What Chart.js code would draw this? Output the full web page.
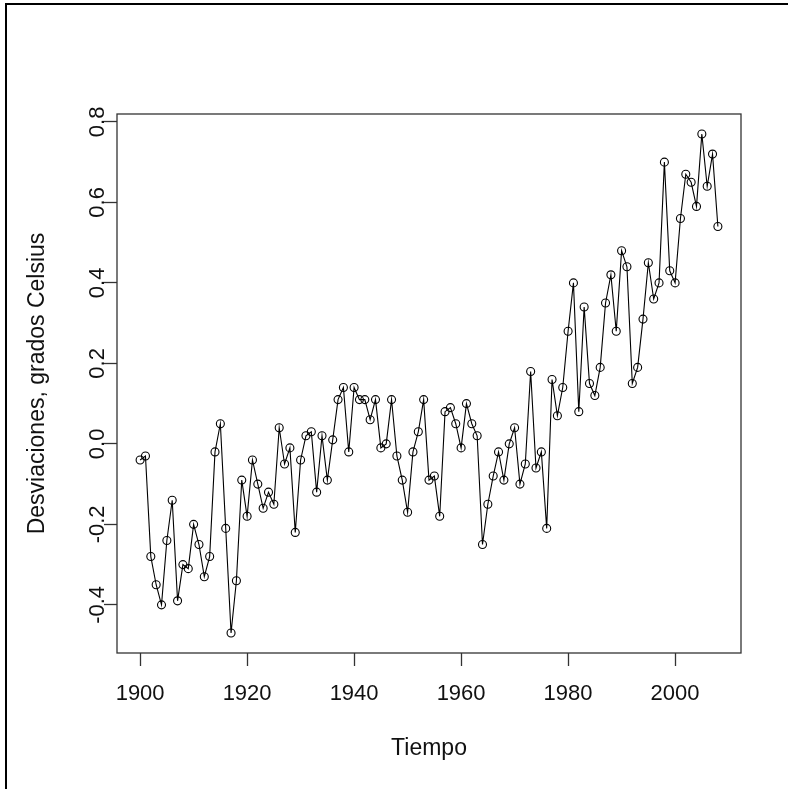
<!DOCTYPE html>
<html>
<head>
<meta charset="utf-8">
<script src="https://cdn.jsdelivr.net/npm/chart.js@4.4.1/dist/chart.umd.min.js"></script>
<style>
  html, body { margin: 0; padding: 0; background: #fff; }
  #wrap { position: relative; width: 788px; height: 789px; }
</style>
</head>
<body>
<div id="wrap"><canvas id="c" width="788" height="789"></canvas></div>
<script>
// Years (categories)
const years = [];
for (let y = 1900; y <= 2008; y++) years.push(y);

// Temperature deviations (degrees Celsius)
const deviations = [
  -0.04, -0.03, -0.28, -0.35, -0.40, -0.24, -0.14, -0.39, -0.30, -0.31,
  -0.20, -0.25, -0.33, -0.28, -0.02,  0.05, -0.21, -0.47, -0.34, -0.09,
  -0.18, -0.04, -0.10, -0.16, -0.12, -0.15,  0.04, -0.05, -0.01, -0.22,
  -0.04,  0.02,  0.03, -0.12,  0.02, -0.09,  0.01,  0.11,  0.14, -0.02,
   0.14,  0.11,  0.11,  0.06,  0.11, -0.01,  0.00,  0.11, -0.03, -0.09,
  -0.17, -0.02,  0.03,  0.11, -0.09, -0.08, -0.18,  0.08,  0.09,  0.05,
  -0.01,  0.10,  0.05,  0.02, -0.25, -0.15, -0.08, -0.02, -0.09,  0.00,
   0.04, -0.10, -0.05,  0.18, -0.06, -0.02, -0.21,  0.16,  0.07,  0.14,
   0.28,  0.40,  0.08,  0.34,  0.15,  0.12,  0.19,  0.35,  0.42,  0.28,
   0.48,  0.44,  0.15,  0.19,  0.31,  0.45,  0.36,  0.40,  0.70,  0.43,
   0.40,  0.56,  0.67,  0.65,  0.59,  0.77,  0.64,  0.72,  0.54
];

// Tick labels
const xTicks = [1900, 1920, 1940, 1960, 1980, 2000];
const yTicks = [-0.4, -0.2, 0.0, 0.2, 0.4, 0.6, 0.8];

const xTitle = "Tiempo";
const yTitle = "Desviaciones, grados Celsius";

const FONT = "'Liberation Sans', Arial, sans-serif";
const TICK_SIZE = 22;
const TITLE_SIZE = 23;

// R-style 4% axis extension
const xmin0 = Math.min(...years), xmax0 = Math.max(...years);
const ymin0 = Math.min(...deviations), ymax0 = Math.max(...deviations);
const xpad = (xmax0 - xmin0) * 0.04, ypad = (ymax0 - ymin0) * 0.04;

const points = years.map((y, i) => ({ x: y, y: deviations[i] }));

const framePlugin = {
  id: 'frame',
  beforeDraw(chart) {
    const ctx = chart.ctx;
    ctx.save();
    ctx.fillStyle = '#fff';
    ctx.fillRect(0, 0, chart.width, chart.height);
    ctx.fillStyle = '#000';
    ctx.fillRect(5, 3, chart.width - 5, 2);
    ctx.fillRect(5, 3, 2, chart.height - 3);
    ctx.restore();
  },
  afterDraw(chart) {
    const ctx = chart.ctx;
    const a = chart.chartArea;
    ctx.save();
    ctx.strokeStyle = '#333';
    ctx.lineWidth = 1.3;
    ctx.strokeRect(a.left, a.top, a.right - a.left, a.bottom - a.top);
    // y tick labels, rotated (parallel to axis)
    const ys = chart.scales.y;
    ctx.fillStyle = '#111';
    ctx.font = TICK_SIZE + 'px ' + FONT;
    ctx.textAlign = 'center';
    ctx.textBaseline = 'alphabetic';
    ys.ticks.forEach(t => {
      const py = ys.getPixelForValue(t.value);
      ctx.save();
      ctx.translate(104, py);
      ctx.rotate(-Math.PI / 2);
      ctx.fillText(t.value.toFixed(1), 0, 0);
      ctx.restore();
    });
    ctx.restore();
  }
};

new Chart(document.getElementById('c'), {
  type: 'line',
  data: {
    datasets: [{
      data: points,
      borderColor: '#000',
      borderWidth: 1.1,
      tension: 0,
      pointStyle: 'circle',
      pointRadius: 4,
      pointBorderWidth: 1.1,
      pointBorderColor: '#000',
      pointBackgroundColor: 'rgba(0,0,0,0)',
      fill: false
    }]
  },
  plugins: [framePlugin],
  options: {
    responsive: false,
    animation: false,
    events: [],
    layout: { padding: { top: 114, right: 47, left: 0, bottom: 0 } },
    plugins: { legend: { display: false }, tooltip: { enabled: false } },
    scales: {
      x: {
        type: 'linear',
        min: xmin0 - xpad,
        max: xmax0 + xpad,
        afterFit(s) { s.height = 789 - 653; },
        afterBuildTicks(s) { s.ticks = xTicks.map(v => ({ value: v })); },
        border: { display: false },
        grid: { drawOnChartArea: false, drawTicks: true, tickLength: 13, color: '#333', tickWidth: 1.3 },
        ticks: {
          color: '#111',
          font: { family: FONT, size: TICK_SIZE },
          padding: 15,
          maxRotation: 0,
          callback: v => String(v)
        },
        title: {
          display: true, text: xTitle, color: '#111',
          font: { family: FONT, size: TITLE_SIZE },
          padding: { top: 0, bottom: 27 }
        }
      },
      y: {
        type: 'linear',
        min: ymin0 - ypad,
        max: ymax0 + ypad,
        afterFit(s) { s.width = 117; },
        afterBuildTicks(s) { s.ticks = yTicks.map(v => ({ value: v })); },
        border: { display: false },
        grid: { drawOnChartArea: false, drawTicks: true, tickLength: 13, color: '#333', tickWidth: 1.3 },
        ticks: { display: false },
        title: {
          display: true, text: yTitle, color: '#111',
          font: { family: FONT, size: TITLE_SIZE },
          padding: { top: 24, bottom: 0 }
        }
      }
    }
  }
});
</script>
</body>
</html>
